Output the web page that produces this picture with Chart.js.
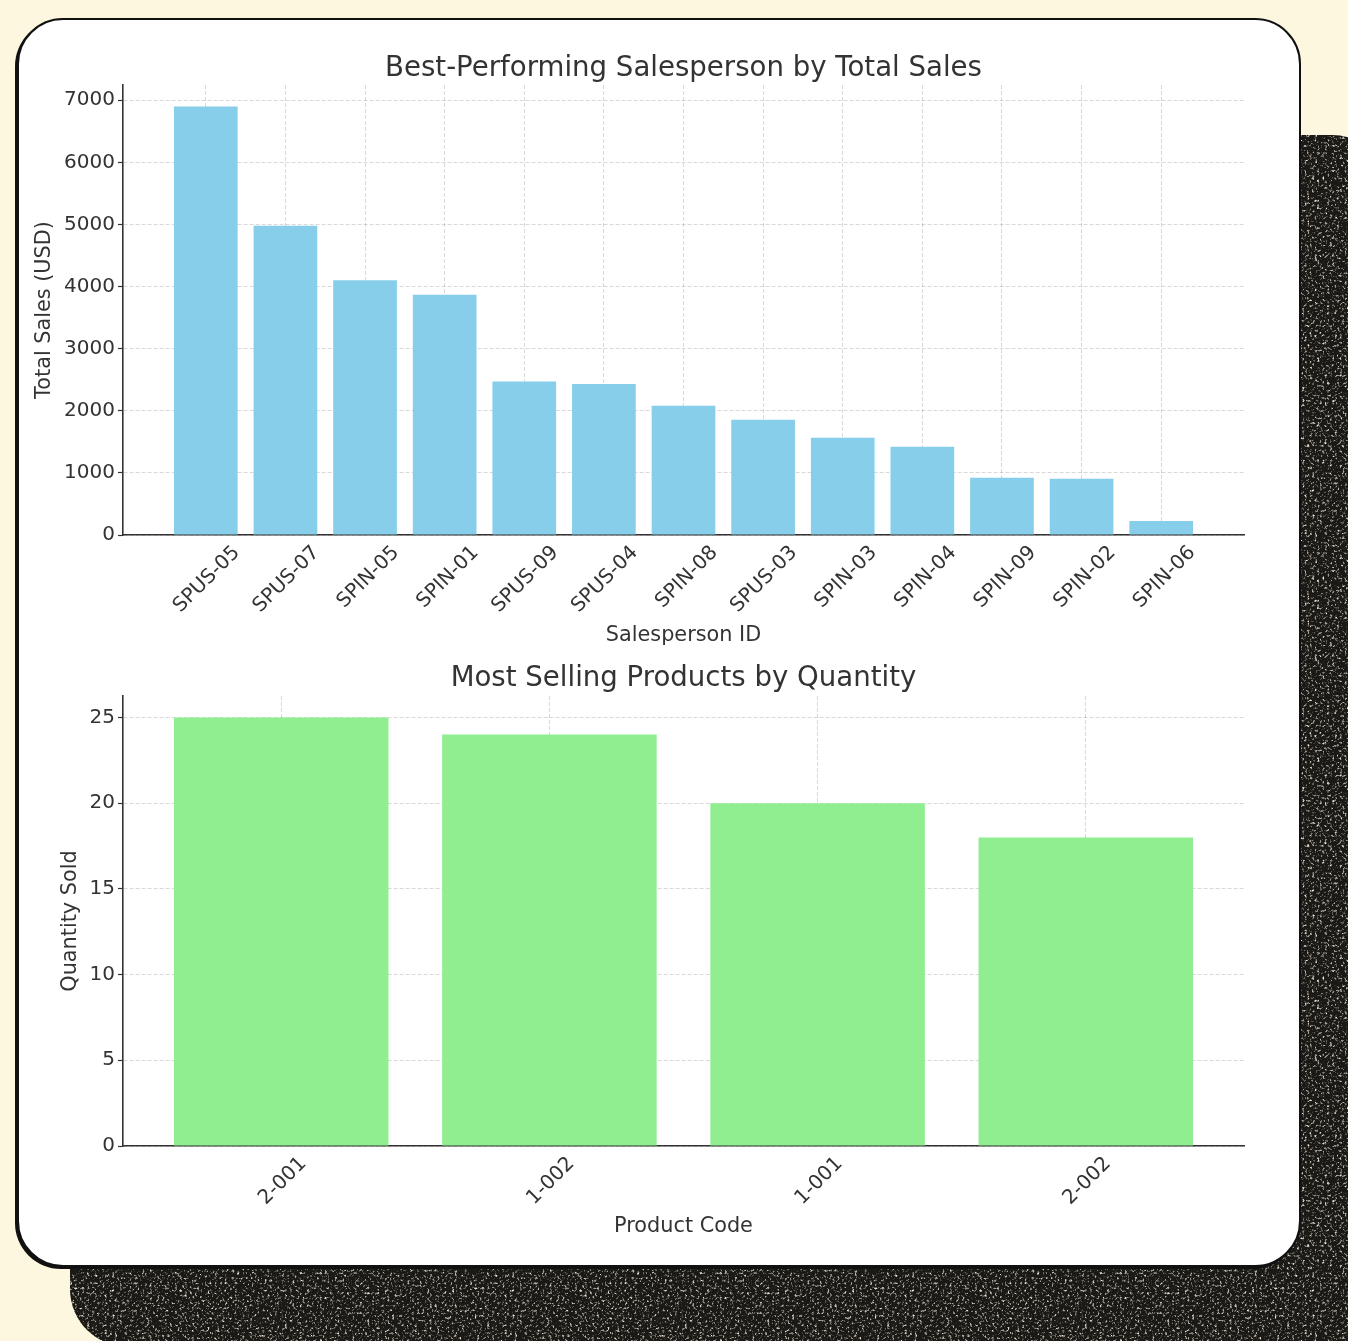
<!DOCTYPE html>
<html><head><meta charset="utf-8">
<script src="https://cdn.jsdelivr.net/npm/chart.js@4.4.0/dist/chart.umd.min.js"></script>
<style>
html,body{margin:0;padding:0;}
body{width:1348px;height:1341px;background:#fdf7df;position:relative;overflow:hidden;}
#dark{position:absolute;left:70px;top:135px;width:1320px;height:1212px;border-radius:58px;
  background-color:#1a1915;
  background-image:url("data:image/svg+xml;utf8,<svg xmlns='http://www.w3.org/2000/svg' width='400' height='400'><filter id='n'><feTurbulence type='fractalNoise' baseFrequency='0.4' numOctaves='3' seed='4'/><feColorMatrix values='0 0 0 0 0.82  0 0 0 0 0.79  0 0 0 0 0.68  3.4 0 0 0 -1.85'/></filter><rect width='100%' height='100%' filter='url(%23n)'/></svg>");}
#card{position:absolute;left:17px;top:18px;width:1284px;height:1249px;box-sizing:border-box;
  border:2px solid #111;border-radius:46px;background:#fff;box-shadow:-2px 2px 0 #111;}
canvas{position:absolute;left:17px;}
#c1{top:18px;}
#c2{top:658px;}
</style></head>
<body>
<div id="dark"></div>
<div id="card"></div>
<canvas id="c1" width="1284" height="640"></canvas>
<canvas id="c2" width="1284" height="609"></canvas>
<script>
const salespersons = ['SPUS-05','SPUS-07','SPIN-05','SPIN-01','SPUS-09','SPUS-04','SPIN-08','SPUS-03','SPIN-03','SPIN-04','SPIN-09','SPIN-02','SPIN-06'];
const totalSales = [6900, 4980, 4100, 3870, 2470, 2430, 2080, 1855, 1565, 1420, 920, 905, 225];
const salesTicks = [0, 1000, 2000, 3000, 4000, 5000, 6000, 7000];

const products = ['2-001', '1-002', '1-001', '2-002'];
const quantities = [25, 24, 20, 18];
const qtyTicks = [0, 5, 10, 15, 20, 25];

const FONT = "'DejaVu Sans', sans-serif";
const TXT = '#333';
Chart.defaults.font.family = FONT;
Chart.defaults.color = TXT;

// Title centred over the plot area (as in the reference)
const areaTitle = {
  id: 'areaTitle',
  afterDraw(chart, args, opts) {
    const {ctx, chartArea} = chart;
    ctx.save();
    ctx.font = `normal ${opts.size}px ${FONT}`;
    ctx.fillStyle = TXT;
    ctx.textAlign = 'center';
    ctx.textBaseline = 'middle';
    ctx.fillText(opts.text, (chartArea.left + chartArea.right) / 2, opts.y);
    ctx.restore();
  }
};

function makeChart(id, cfg) {
  const n = cfg.labels.length;
  const margin = 0.05 * (n - 1 + 0.8);
  return new Chart(document.getElementById(id), {
    type: 'bar',
    data: {
      datasets: [{
        data: cfg.values.map((v, i) => ({x: i, y: v})),
        backgroundColor: cfg.color,
        borderWidth: 0,
        categoryPercentage: 1,
        barPercentage: 0.8
      }]
    },
    plugins: [areaTitle],
    options: {
      responsive: false,
      animation: false,
      events: [],
      layout: {padding: {left: 0, right: 57, top: cfg.areaTop, bottom: 0}},
      plugins: {
        legend: {display: false},
        tooltip: {enabled: false},
        title: {display: false},
        areaTitle: {text: cfg.title, size: 27.6, y: cfg.titleY}
      },
      scales: {
        x: {
          type: 'linear', z: 1, offset: false,
          min: -0.4 - margin, max: n - 1 + 0.4 + margin,
          afterBuildTicks: s => { s.ticks = cfg.labels.map((_, i) => ({value: i})); },
          afterFit: s => { s.height = cfg.xHeight; },
          ticks: {
            autoSkip: false, minRotation: 45, maxRotation: 45,
            labelOffset: cfg.labelOffset, padding: 6,
            font: {family: FONT, size: 20}, color: TXT,
            callback: v => cfg.labels[v]
          },
          grid: {color: 'rgba(0,0,0,0.15)', lineWidth: 1, drawTicks: false, offset: false},
          border: {display: true, color: '#333', width: 1.6, dash: [4, 2]},
          title: {display: true, text: cfg.xTitle, color: TXT,
                  font: {family: FONT, size: 20.8}, padding: {top: 0, bottom: cfg.xTitlePadBottom}}
        },
        y: {
          type: 'linear', z: 1,
          min: 0, max: Math.max(...cfg.values) * 1.05,
          afterBuildTicks: s => { s.ticks = cfg.ticks.map(v => ({value: v})); },
          afterFit: s => { s.width = 106; },
          ticks: {font: {family: FONT, size: 20}, color: TXT, padding: 3,
                  callback: v => String(v)},
          grid: {color: 'rgba(0,0,0,0.15)', lineWidth: 1, drawTicks: true,
                 tickLength: 5, tickColor: '#333', tickWidth: 1.2, tickBorderDash: []},
          border: {display: true, color: '#333', width: 1.6, dash: [4, 2]},
          title: {display: true, text: cfg.yTitle, color: TXT,
                  font: {family: FONT, size: 20.8}, padding: {top: cfg.yTitlePadTop, bottom: 0}}
        }
      }
    }
  });
}

makeChart('c1', {
  labels: salespersons, values: totalSales, ticks: salesTicks, color: '#87CEEB',
  title: 'Best-Performing Salesperson by Total Sales',
  xTitle: 'Salesperson ID', yTitle: 'Total Sales (USD)',
  areaTop: 67, titleY: 50.5, xHeight: 123, xTitlePadBottom: 9.5,
  yTitlePadTop: 15, labelOffset: 31
});

makeChart('c2', {
  labels: products, values: quantities, ticks: qtyTicks, color: '#90EE90',
  title: 'Most Selling Products by Quantity',
  xTitle: 'Product Code', yTitle: 'Quantity Sold',
  areaTop: 38, titleY: 21, xHeight: 121, xTitlePadBottom: 27.5,
  yTitlePadTop: 41, labelOffset: 22
});
</script>
</body></html>
